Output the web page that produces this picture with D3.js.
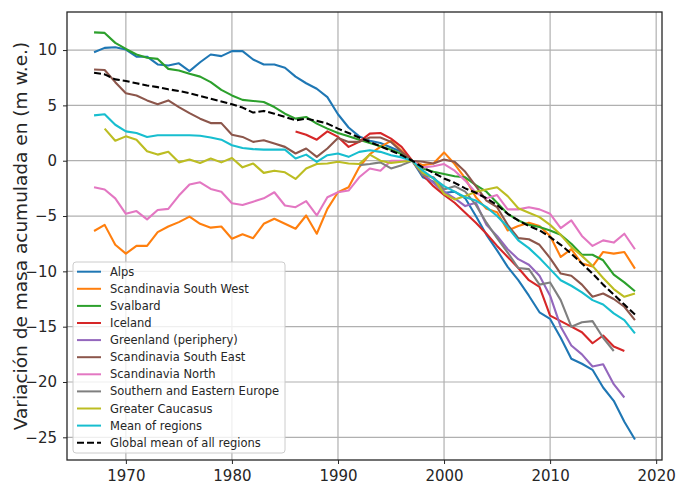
<!DOCTYPE html>
<html><head><meta charset="utf-8">
<script src="https://cdn.jsdelivr.net/npm/d3@7"></script>
<style>body{margin:0;background:#fff}svg{display:block}text{font-family:"DejaVu Sans",sans-serif;fill:#262626}</style>
</head><body><svg id="c" width="678" height="485"></svg>
<script>
const years = d3.range(1967, 2019);
const alps = [9.8,10.2,10.25,10.05,9.4,9.4,8.7,8.6,8.8,8.1,8.9,9.6,9.45,9.9,9.9,9.15,8.7,8.7,8.4,7.6,7.0,6.5,5.75,4.2,3.0,2.2,1.8,1.6,1.2,0.8,0,-1.5,-1.9,-2.9,-2.8,-3.4,-5.0,-6.7,-8.1,-9.6,-10.8,-12.2,-13.7,-14.3,-16.0,-17.9,-18.35,-18.9,-20.5,-21.7,-23.6,-25.2];
const ssw = [-6.35,-5.8,-7.6,-8.4,-7.7,-7.7,-6.45,-5.95,-5.55,-5.05,-5.7,-6.05,-5.95,-7.05,-6.65,-7.0,-5.7,-5.25,-5.7,-6.15,-4.95,-6.6,-4.35,-2.85,-2.4,-0.6,0.6,1.25,1.8,0.9,0,-0.4,-0.25,0.75,-0.3,-1.6,-3.3,-4.35,-4.65,-6.3,-5.9,-5.6,-5.9,-6.8,-8.7,-8.0,-9.3,-9.55,-8.25,-8.4,-8.25,-9.75];
const svalbard = [11.6,11.55,10.65,10.1,9.6,9.3,9.2,8.3,8.15,7.85,7.6,7.1,6.4,5.9,5.5,5.4,5.3,4.85,4.25,3.8,3.95,3.35,2.9,2.5,2.2,1.9,1.6,1.3,1.0,0.6,0,-0.7,-1.0,-1.2,-1.4,-1.5,-2.2,-2.8,-3.8,-4.8,-5.4,-5.8,-6.0,-6.3,-6.7,-7.5,-8.5,-8.5,-9.0,-10.3,-11.0,-11.8];
const iceland = [null,null,null,null,null,null,null,null,null,null,null,null,null,null,null,null,null,null,null,2.65,2.35,1.9,2.65,2.15,1.25,1.7,2.45,2.5,2.0,1.25,0,-1.3,-2.3,-3.1,-3.8,-4.7,-5.6,-6.6,-7.7,-8.7,-9.7,-10.8,-11.4,-14.0,-14.5,-15.0,-15.5,-16.5,-15.8,-16.8,-17.2,null];
const greenland = [null,null,null,null,null,null,null,null,null,null,null,null,null,null,null,null,null,null,null,null,null,null,null,null,null,null,null,null,null,null,0,-1.2,-2.0,-2.8,-3.4,-4.1,-3.8,-5.8,-6.8,-8.0,-8.9,-9.4,-10.4,-12.2,-15.0,-16.7,-17.5,-18.6,-18.4,-20.2,-21.4,null];
const sse = [8.25,8.2,7.1,6.1,5.9,5.45,5.1,5.45,4.85,4.3,3.8,3.4,3.4,2.35,2.15,1.7,1.85,1.55,1.25,0.65,1.1,0.35,1.1,2.05,1.7,1.7,2.1,2.1,1.7,0.8,0,-0.1,-0.25,0.1,-0.1,-1.0,-2.3,-3.6,-4.2,-5.8,-7.0,-7.1,-7.6,-8.8,-10.2,-10.4,-11.2,-12.3,-12.0,-12.5,-13.2,-14.4];
const scandNorth = [-2.4,-2.6,-3.4,-4.8,-4.55,-5.3,-4.45,-4.35,-3.15,-2.15,-1.95,-2.55,-2.8,-3.85,-4.0,-3.7,-3.4,-2.85,-4.05,-4.2,-3.65,-4.95,-3.3,-2.85,-2.7,-1.5,-0.7,-0.9,0.0,0.0,0,-0.6,-0.5,-0.3,-0.9,-1.8,-2.9,-3.4,-3.1,-4.4,-4.4,-4.2,-4.4,-4.8,-6.1,-5.4,-6.8,-7.7,-7.2,-7.4,-6.6,-8.0];
const seEurope = [null,null,null,null,null,null,null,null,null,null,null,null,null,null,null,null,null,null,null,null,null,null,null,null,null,-0.4,-0.3,-0.15,-0.7,-0.4,0,-1.3,-1.5,-2.6,-2.3,-2.8,-4.0,-5.6,-7.0,-8.3,-9.7,-9.8,-11.2,-11.0,-12.6,-15.0,-14.6,-14.5,-16.0,-17.2,null,null];
const caucasus = [null,2.9,1.8,2.2,1.9,0.85,0.55,0.8,-0.15,0.1,-0.2,0.2,-0.15,0.25,-0.6,-0.25,-1.1,-0.9,-1.05,-1.65,-0.7,-0.3,-0.25,-0.1,-0.25,-0.3,0.55,0.0,-0.2,-0.1,0,-1.1,-1.6,-3.0,-3.5,-3.2,-2.8,-2.6,-2.4,-3.2,-4.3,-4.7,-5.1,-5.8,-6.7,-7.8,-8.6,-9.5,-10.6,-11.6,-12.3,-12.0];
const meanRegions = [4.1,4.2,3.25,2.65,2.5,2.15,2.3,2.3,2.3,2.3,2.25,2.1,1.9,1.4,1.15,1.05,1.0,1.0,1.0,0.2,0.55,-0.1,0.5,0.65,0.35,0.8,0.95,0.8,0.5,0.3,0,-0.9,-1.6,-2.3,-2.8,-3.3,-3.6,-4.2,-5.0,-6.0,-7.2,-7.9,-8.8,-9.8,-10.8,-11.3,-11.9,-12.6,-13.0,-13.8,-14.4,-15.6];
const globalMean = [7.95,7.8,7.35,7.2,7.0,6.8,6.65,6.45,6.3,6.1,5.85,5.6,5.35,5.1,4.8,4.35,4.5,4.25,3.95,3.65,3.8,3.6,3.35,2.9,2.5,2.1,1.7,1.3,0.9,0.5,0,-0.6,-1.1,-1.6,-2.0,-2.5,-2.9,-3.4,-4.0,-4.8,-5.4,-5.9,-6.3,-6.9,-7.6,-8.4,-9.3,-10.2,-11.2,-12.1,-13.0,-13.9];

const seriesNames = ["Alps","Scandinavia South West","Svalbard","Iceland","Greenland (periphery)","Scandinavia South East","Scandinavia North","Southern and Eastern Europe","Greater Caucasus","Mean of regions","Global mean of all regions"];
const seriesValues = [alps,ssw,svalbard,iceland,greenland,sse,scandNorth,seEurope,caucasus,meanRegions,globalMean];
const seriesColors = ["#1f77b4","#ff7f0e","#2ca02c","#d62728","#9467bd","#8c564b","#e377c2","#7f7f7f","#bcbd22","#17becf","#000000"];
const xTicks = [1970,1980,1990,2000,2010,2020];
const yTicks = [10,5,0,-5,-10,-15,-20,-25];
const yLabel = "Variación de masa acumulada en (m w.e.)";

const svg = d3.select("#c");
const L=67,R=662,T=12,B=460;
const x = d3.scaleLinear().domain([1964.45,2020.55]).range([L,R]);
const y = d3.scaleLinear().domain([-27.05,13.44]).range([B,T]);

// grid
const g = svg.append("g");
g.selectAll(".gx").data(xTicks).join("line").attr("x1",d=>x(d)).attr("x2",d=>x(d)).attr("y1",T).attr("y2",B).attr("stroke","#b0b0b0").attr("stroke-width",1.2);
g.selectAll(".gy").data(yTicks).join("line").attr("y1",d=>y(d)).attr("y2",d=>y(d)).attr("x1",L).attr("x2",R).attr("stroke","#b0b0b0").attr("stroke-width",1.2);

// lines
const line = d3.line().defined(d=>d[1]!==null).x(d=>x(d[0])).y(d=>y(d[1]));
const plot = svg.append("g");
seriesValues.forEach((vals,i)=>{
  const pts = years.map((yr,j)=>[yr,vals[j]]);
  plot.append("path").datum(pts).attr("d",line).attr("fill","none")
    .attr("stroke",seriesColors[i]).attr("stroke-width",2.1)
    .attr("stroke-dasharray", i===10?"7,3":null).attr("stroke-linejoin","round");
});

// axes
const ax = svg.append("g").attr("transform",`translate(0,${B})`)
  .call(d3.axisBottom(x).tickValues(xTicks).tickFormat(d3.format("d")).tickSize(4).tickPadding(6));
const ay = svg.append("g").attr("transform",`translate(${L},0)`)
  .call(d3.axisLeft(y).tickValues(yTicks).tickSize(4).tickPadding(6));
[ax,ay].forEach(a=>{a.select(".domain").remove();a.selectAll("text").attr("font-size",15).attr("fill","#262626").style("font-family","DejaVu Sans");a.selectAll("line").attr("stroke","#262626").attr("stroke-width",1);});
svg.append("rect").attr("x",L).attr("y",T).attr("width",R-L).attr("height",B-T).attr("fill","none").attr("stroke","#262626").attr("stroke-width",1.3);

// y label
svg.append("text").attr("transform",`translate(27,${(T+B)/2}) rotate(-90)`).attr("text-anchor","middle").attr("font-size",18.5).text(yLabel);

// legend
const lg = svg.append("g");
lg.append("rect").attr("x",73).attr("y",262).attr("width",212).attr("height",191).attr("rx",3).attr("fill","#fff").attr("fill-opacity",0.8).attr("stroke","#cccccc");
seriesNames.forEach((n,i)=>{
  const yy = 271.7 + i*17.1;
  lg.append("line").attr("x1",77).attr("x2",101).attr("y1",yy).attr("y2",yy).attr("stroke",seriesColors[i]).attr("stroke-width",2).attr("stroke-dasharray",i===10?"7,3":null);
  lg.append("text").attr("x",110).attr("y",yy+4).attr("font-size",11.5).text(n);
});
</script></body></html>
